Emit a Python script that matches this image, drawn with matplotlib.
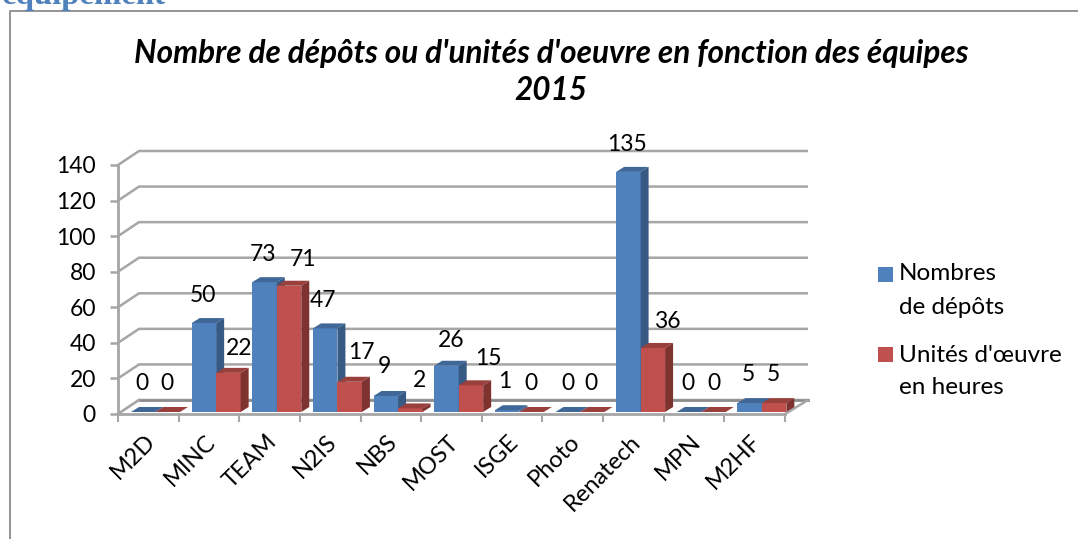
import matplotlib
matplotlib.use('Agg')
import matplotlib.pyplot as plt
from matplotlib.lines import Line2D
from matplotlib.patches import Rectangle

plt.rcParams['font.family'] = ['Lato', 'DejaVu Sans']

# Data
equipes = ['M2D', 'MINC', 'TEAM', 'N2IS', 'NBS', 'MOST', 'ISGE', 'Photo', 'Renatech', 'MPN', 'M2HF']
depots = [0, 50, 73, 47, 9, 26, 1, 0, 135, 0, 5]
unites = [0, 22, 71, 17, 2, 15, 0, 0, 36, 0, 5]
y_ticks = [0, 20, 40, 60, 80, 100, 120, 140]
legende_depots = ['Nombres', 'de dépôts']
legende_unites = ["Unités d'œuvre", 'en heures']

# Hand-placed data labels of the original chart, pixels from the bar top centre
shift_depots = [(-1, 29), (-1, 28), (-2, 28), (-2, 28), (-1, 29), (5, 25), (-2, 29), (0, 29), (-1, 27), (-1, 29), (-1, 29)]
shift_unites = [(-1, 29), (11, 24), (14, 26), (12, 29), (9, 28), (17, 27), (-1, 29), (-1, 29), (14, 26), (0, 29), (-1, 29)]

W, H = 1078, 539
GREY = '#a6a6a6'
BLUE, BLUE_TOP, BLUE_SIDE = '#4f81bd', '#3f6797', '#375a84'
RED, RED_TOP, RED_SIDE = '#c0504d', '#99403d', '#7e3331'
FS = 16.5
PT = 0.72  # points per pixel at dpi 100

fig = plt.figure(figsize=(W / 100, H / 100), dpi=100, facecolor='white')

# Axes area = front plane of the 3D box (pixels 118-785 / 165-414)
ax = fig.add_axes([118 / W, 1 - 414 / H, (785 - 118) / W, (414 - 165) / H])
ax.set_xlim(0, len(equipes))
ax.set_ylim(0, 140)
ax.patch.set_alpha(0)

px_x = (785 - 118) / len(equipes)  # pixels for one category
px_y = (414 - 165) / 140           # pixels for one unit


def dx(p):
    return p / px_x


def dy(p):
    return p / px_y


# Back wall gridlines
for t in y_ticks:
    ax.plot([0, dx(21), len(equipes) + dx(23)], [t, t + dy(14), t + dy(14)],
            color=GREY, lw=1.8, clip_on=False, zorder=1, solid_capstyle='butt')

# Floor
ax.fill([0, dx(21), len(equipes) + dx(23), len(equipes)], [0, dy(14), dy(14), 0],
        color='white', clip_on=False, zorder=1.5)
ax.plot([dx(21), len(equipes) + dx(23)], [dy(14), dy(14)], color='#8c8c8c', lw=2, clip_on=False, zorder=1.6)
ax.plot([0, dx(21)], [0, dy(14)], color=GREY, lw=1.8, clip_on=False, zorder=1.6)
ax.plot([len(equipes), len(equipes) + dx(23)], [0, dy(14)], color=GREY, lw=1.8, clip_on=False, zorder=1.6)


def draw_bar(left, width, value, front, top, side, z):
    base = dy(2)
    ax.bar(left, value, width, bottom=base, align='edge', color=front, zorder=z, clip_on=False)
    right = left + width
    h = base + value
    ax.fill([left, left + dx(8), right + dx(8), right], [h, h + dy(5), h + dy(5), h],
            color=top, lw=0, zorder=z, clip_on=False)
    ax.fill([right, right + dx(8), right + dx(8), right], [base, base + dy(5), h + dy(5), h],
            color=side, lw=0, zorder=z, clip_on=False)


def bar_label(value, x, shift):
    ax.annotate(str(value), (x, dy(2) + value), xytext=(shift[0] * PT, shift[1] * PT), textcoords='offset points',
                ha='center', va='center', fontsize=FS, color='black', zorder=10, annotation_clip=False)


bar_w = 24.5 / px_x
for i in range(len(equipes)):
    left = i + 13 / px_x
    draw_bar(left, bar_w, depots[i], BLUE, BLUE_TOP, BLUE_SIDE, 3 + i * 0.1)
    draw_bar(left + bar_w, bar_w, unites[i], RED, RED_TOP, RED_SIDE, 3.05 + i * 0.1)
    bar_label(depots[i], left + bar_w / 2, shift_depots[i])
    bar_label(unites[i], left + bar_w * 1.5, shift_unites[i])

# Axis styling
for name in ['top', 'right']:
    ax.spines[name].set_visible(False)
for name in ['left', 'bottom']:
    ax.spines[name].set_color(GREY)
    ax.spines[name].set_linewidth(2)
    ax.spines[name].set_zorder(2)
ax.set_yticks(y_ticks)
ax.tick_params(axis='y', length=6, width=1.8, color=GREY, labelsize=FS, pad=10)
ax.set_xticks(range(len(equipes) + 1))
ax.set_xticklabels([])
ax.tick_params(axis='x', length=6, width=1.5, color=GREY)
for i, name in enumerate(equipes):
    ax.annotate(name, (i + 0.5, 0), xytext=(-3, -12), textcoords='offset points', rotation=45,
                rotation_mode='anchor', ha='right', va='top', fontsize=FS + 0.5, annotation_clip=False)

# Title
fig.text(551 / W, 1 - 53 / H, "Nombre de dépôts ou d'unités d'oeuvre en fonction des équipes",
         ha='center', va='center', fontsize=22.7, fontweight='bold', fontstyle='italic')
fig.text(551 / W, 1 - 90 / H, '2015', ha='center', va='center', fontsize=22.7, fontweight='bold', fontstyle='italic')

# Legend
fig.add_artist(Rectangle((878 / W, 1 - 282 / H), 15 / W, 15 / H, color=BLUE, lw=0, transform=fig.transFigure))
fig.add_artist(Rectangle((878 / W, 1 - 362 / H), 15 / W, 15 / H, color=RED, lw=0, transform=fig.transFigure))
fig.text(899 / W, 1 - 274 / H, legende_depots[0], va='center', fontsize=17.5)
fig.text(899 / W, 1 - 307 / H, legende_depots[1], va='center', fontsize=17.5)
fig.text(899 / W, 1 - 355 / H, legende_unites[0], va='center', fontsize=17.5)
fig.text(899 / W, 1 - 387 / H, legende_unites[1], va='center', fontsize=17.5)

# Frame of the embedded chart + cut-off heading above it
fig.add_artist(Line2D([10 / W, 10 / W, 1], [0, 1 - 11 / H, 1 - 11 / H], color='#8c8c8c', lw=1.3))
fig.text(2 / W, 1 - 4 / H, 'équipement', family='Liberation Serif', fontweight='bold', fontsize=23.6,
         color='#4f81bd', va='baseline')

fig.savefig('out.png', dpi=100, facecolor='white')
